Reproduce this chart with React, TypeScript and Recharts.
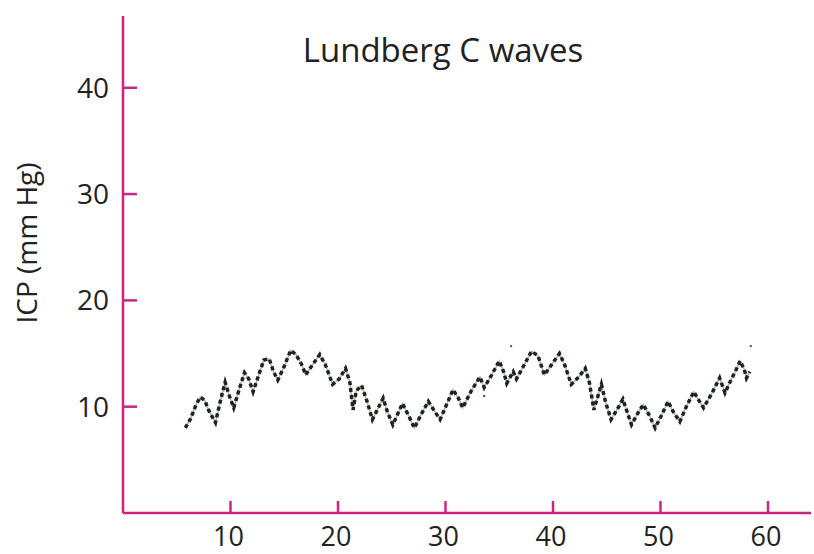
import React from "react";
import { ComposedChart, Line, Scatter, XAxis, YAxis, Customized } from "recharts";

// Time (x) and ICP (mm Hg) readings of the trace
const timeValues = [
  5.8, 6.3, 6.8, 7.2, 7.6, 8.0, 8.6, 9.0, 9.5, 9.9, 10.3, 10.8, 11.3, 11.7, 12.1, 12.6,
  13.1, 13.6, 14.0, 14.4, 15.0, 15.6, 16.1, 16.6, 17.0, 17.6, 18.3, 18.8, 19.5, 20.1,
  20.7, 21.1, 21.4, 21.7, 22.2, 22.7, 23.2, 23.7, 24.2, 24.6, 25.1, 25.5, 26.0, 26.6,
  27.1, 27.7, 28.4, 28.9, 29.5, 30.1, 30.7, 31.2, 31.6, 32.4, 33.2, 33.6, 34.3, 35.0,
  35.4, 35.7, 36.3, 36.6, 37.3, 38.0, 38.6, 39.2, 39.9, 40.6, 41.1, 41.7, 42.4, 43.0,
  43.4, 43.8, 44.5, 44.9, 45.4, 46.0, 46.5, 46.9, 47.3, 47.9, 48.4, 49.0, 49.5, 50.1,
  50.7, 51.2, 51.8, 52.4, 53.1, 53.5, 54.0, 54.8, 55.5, 56.0, 56.5, 57.0, 57.4, 57.8,
  58.0, 58.3,
];
const icpValues = [
  8.0, 8.9, 10.2, 10.9, 10.6, 9.6, 8.5, 10.3, 12.3, 11.0, 9.9, 11.6, 13.2, 12.6, 11.4, 12.9,
  14.4, 14.5, 13.3, 12.5, 13.8, 15.3, 14.9, 14.0, 13.0, 13.9, 14.9, 14.0, 12.1, 12.6,
  13.6, 12.3, 9.7, 11.5, 12.0, 10.5, 8.8, 9.8, 10.8, 9.5, 8.3, 9.2, 10.3, 9.1,
  8.0, 9.2, 10.5, 9.7, 8.8, 10.2, 11.6, 10.8, 9.9, 11.5, 12.8, 11.8, 13.0, 14.3,
  13.3, 12.2, 13.3, 12.6, 13.9, 15.2, 14.8, 13.0, 14.0, 15.0, 13.9, 12.1, 12.8, 13.6,
  12.2, 9.7, 12.1, 10.4, 8.8, 9.8, 10.7, 9.5, 8.3, 9.4, 10.2, 9.1, 8.0, 9.2,
  10.5, 9.5, 8.6, 10.0, 11.4, 10.7, 9.9, 11.3, 12.7, 11.3, 12.4, 13.4, 14.3, 13.5,
  12.7, 13.3,
];
// Isolated stray samples
const strayTime = [36.1, 58.4, 33.6];
const strayIcp = [15.7, 15.7, 11.0];

const xTicks = [10, 20, 30, 40, 50, 60];
const yTicks = [10, 20, 30, 40];
const titleText = "Lundberg C waves";
const yLabelText = "ICP (mm Hg)";

const traceData = timeValues.map((t, i) => ({ t, icp: icpValues[i] }));
const strayData = strayTime.map((t, i) => ({ t, icp: strayIcp[i] }));

const AXIS = "#cd2481";
const TEXT = "#222222";
const FONT = '"Open Sans", sans-serif';

const XTick = (props: any) => {
  const { x, y, payload } = props;
  return (
    <g>
      <line x1={x} y1={y} x2={x} y2={y - 12} stroke={AXIS} strokeWidth={2.5} />
      <text x={x - 2} y={y + 33} textAnchor="middle" fill={TEXT} fontSize={27} fontFamily={FONT}>
        {payload.value}
      </text>
    </g>
  );
};

const YTick = (props: any) => {
  const { x, y, payload } = props;
  return (
    <g>
      <line x1={x} y1={y} x2={x + 14} y2={y} stroke={AXIS} strokeWidth={2.5} />
      <text x={x - 14} y={y + 10} textAnchor="end" fill={TEXT} fontSize={28} fontFamily={FONT}>
        {payload.value}
      </text>
    </g>
  );
};

const Texts = () => (
  <g>
    <text x={443} y={62} textAnchor="middle" fill={TEXT} fontSize={33} fontFamily={FONT}>
      {titleText}
    </text>
    <text
      x={37}
      y={243}
      transform="rotate(-90 37 243)"
      textAnchor="middle"
      fill={TEXT}
      fontSize={28}
      fontFamily={FONT}
    >
      {yLabelText}
    </text>
  </g>
);

export default function App() {
  return (
    <div style={{ position: "absolute", left: 0, top: 0, width: 814, height: 554, background: "#fff" }}>
      <ComposedChart width={814} height={554} margin={{ top: 16, right: 3, left: 0, bottom: 0 }}>
        <XAxis
          dataKey="t"
          type="number"
          domain={[0, 64]}
          ticks={xTicks}
          interval={0}
          height={41}
          tickSize={0}
          tickMargin={0}
          tick={<XTick />}
          axisLine={{ stroke: AXIS, strokeWidth: 2.5 }}
          tickLine={false}
          allowDataOverflow
        />
        <YAxis
          dataKey="icp"
          type="number"
          domain={[0, 46.75]}
          ticks={yTicks}
          interval={0}
          width={123}
          tickSize={0}
          tickMargin={0}
          tick={<YTick />}
          axisLine={{ stroke: AXIS, strokeWidth: 2.5 }}
          tickLine={false}
          allowDataOverflow
        />
        <Line
          data={traceData}
          dataKey="icp"
          type="linear"
          stroke="#a9b3a9"
          strokeWidth={1.5}
          dot={false}
          isAnimationActive={false}
        />
        <Line
          data={traceData}
          dataKey="icp"
          type="linear"
          stroke="#1d241f"
          strokeWidth={3.5}
          strokeDasharray="4 3"
          dot={false}
          isAnimationActive={false}
        />
        <Scatter
          data={strayData}
          dataKey="icp"
          fill="#333"
          shape={(p: any) => <circle cx={p.cx} cy={p.cy} r={1.2} fill="#555" />}
          isAnimationActive={false}
        />
        <Customized component={Texts} />
      </ComposedChart>
    </div>
  );
}
